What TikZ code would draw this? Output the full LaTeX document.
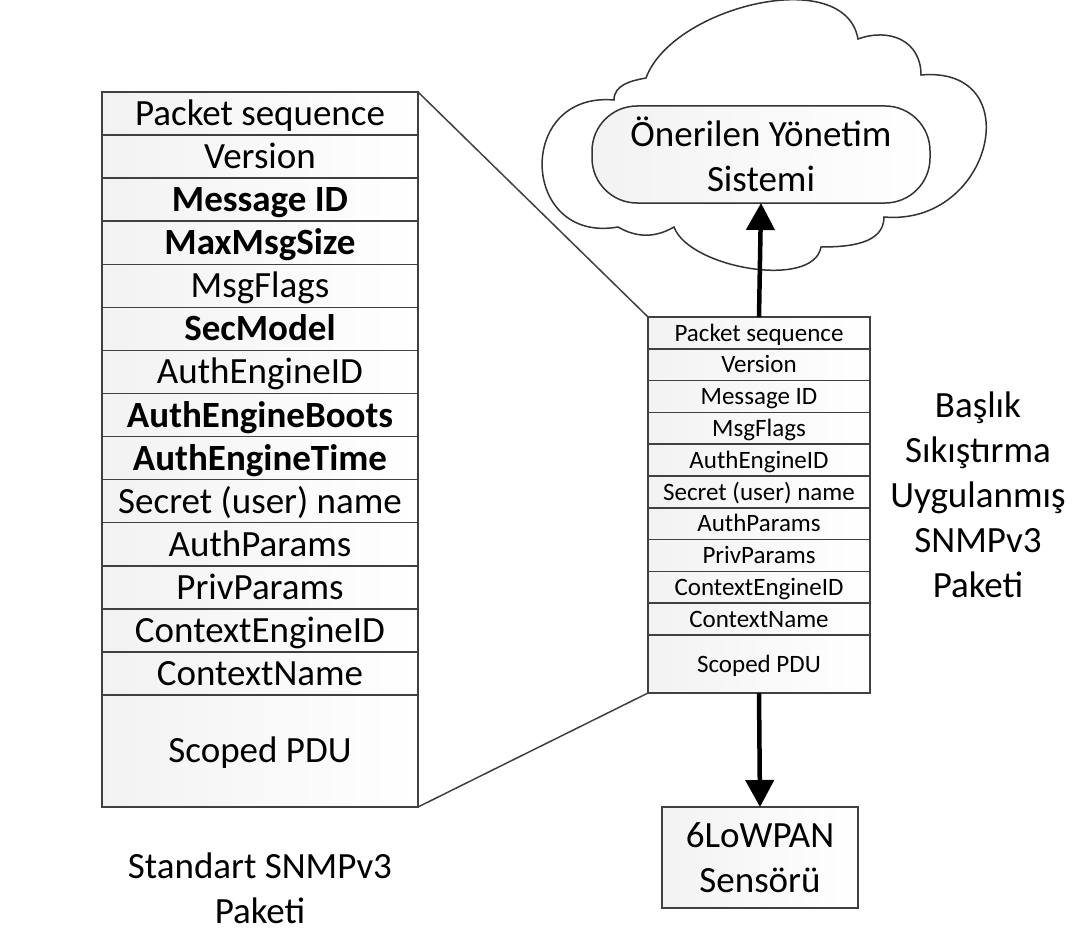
\documentclass[tikz,border=0pt]{standalone}
\usepackage{fontspec}
\setmainfont{Carlito}
\usetikzlibrary{positioning,arrows.meta}

\begin{document}
\begin{tikzpicture}[x=1pt,y=1pt]
        \tikzstyle{every node}=[font=\fontsize{37}{45}\selectfont, inner sep=0pt, outer sep=0pt]
        \tikzstyle{bigrow}=[draw=black!75, line width=1.5pt, left color=black!5, right color=white, minimum width=316pt, minimum height=43.07pt, text height=24pt, text depth=0pt]
        \tikzstyle{smallrow}=[draw=black!75, line width=1.5pt, left color=black!5, right color=white, minimum width=222pt, minimum height=31.8pt, font=\fontsize{25}{30}\selectfont, text height=16.5pt, text depth=0pt]
        \tikzstyle{thickarrow}=[line width=4.5pt, -{Triangle[length=27pt,width=28pt]}]
        \useasboundingbox (0,0) rectangle (1078,-931);

        % standard packet
        \node[bigrow, anchor=north] (lseq) at (260,-92) {Packet sequence};
        \node[bigrow, below=0pt of lseq] (lver) {Version};
        \node[bigrow, below=0pt of lver, font=\fontsize{37}{45}\selectfont\bfseries] (lmid) {Message ID};
        \node[bigrow, below=0pt of lmid, font=\fontsize{37}{45}\selectfont\bfseries] (lmax) {MaxMsgSize};
        \node[bigrow, below=0pt of lmax] (lflags) {MsgFlags};
        \node[bigrow, below=0pt of lflags, font=\fontsize{37}{45}\selectfont\bfseries] (lsec) {SecModel};
        \node[bigrow, below=0pt of lsec] (lengid) {AuthEngineID};
        \node[bigrow, below=0pt of lengid, font=\fontsize{37}{45}\selectfont\bfseries] (lboots) {AuthEngineBoots};
        \node[bigrow, below=0pt of lboots, font=\fontsize{37}{45}\selectfont\bfseries] (ltime) {AuthEngineTime};
        \node[bigrow, below=0pt of ltime] (luser) {Secret (user) name};
        \node[bigrow, below=0pt of luser] (lauth) {AuthParams};
        \node[bigrow, below=0pt of lauth] (lpriv) {PrivParams};
        \node[bigrow, below=0pt of lpriv] (lctxid) {ContextEngineID};
        \node[bigrow, below=0pt of lctxid] (lctxname) {ContextName};
        \node[bigrow, below=0pt of lctxname, minimum height=112pt] (lpdu) {Scoped PDU};
            \node[align=center] (llabel) at (260,-888) {Standart SNMPv3\\Paketi};

        % compressed packet
        \node[smallrow, anchor=north] (rseq) at (759,-317) {Packet sequence};
        \node[smallrow, below=0pt of rseq] (rver) {Version};
        \node[smallrow, below=0pt of rver] (rmid) {Message ID};
        \node[smallrow, below=0pt of rmid] (rflags) {MsgFlags};
        \node[smallrow, below=0pt of rflags] (rengid) {AuthEngineID};
        \node[smallrow, below=0pt of rengid] (ruser) {Secret (user) name};
        \node[smallrow, below=0pt of ruser] (rauth) {AuthParams};
        \node[smallrow, below=0pt of rauth] (rpriv) {PrivParams};
        \node[smallrow, below=0pt of rpriv] (rctxid) {ContextEngineID};
        \node[smallrow, below=0pt of rctxid] (rctxname) {ContextName};
        \node[smallrow, below=0pt of rctxname, minimum height=58pt] (rpdu) {Scoped PDU};
            \node[align=center] (rlabel) at (978,-495) {Başlık\\Sıkıştırma\\Uygulanmış\\SNMPv3\\Paketi};

        \draw [draw=black!75, line width=1.5pt] (lseq.north east) -- (rseq.north west);
        \draw [draw=black!75, line width=1.5pt] (lpdu.south east) -- (rpdu.south west);

        %cloud
        \draw [draw=black!80, line width=1.5pt, fill=white] (614,-100) to[out=90,in=190] (646,-78)
            to[out=70,in=100,looseness=0.9] (858,-39) to[out=20,in=90,looseness=1.2] (921,-75)
            to[out=5,in=-5,looseness=1.9] (884,-217) to[out=-90,in=0] (821,-247)
            to[out=-100,in=-70,looseness=0.75] (674,-227) to[out=-150,in=-30] (618,-227)
            to[out=190,in=175,looseness=2] cycle;
        \node[draw=black!80, line width=1.5pt, rounded corners=45pt, left color=black!5, right color=white, minimum width=338pt, minimum height=97pt, align=center] (mgmt) at (761,-154.5) {Önerilen Yönetim\\Sistemi};

        \node[draw=black!75, line width=1.5pt, left color=black!5, right color=white, minimum width=196pt, minimum height=101pt, align=center] (sensor) at (760,-857.5) {6LoWPAN\\Sensörü};

        \draw [thickarrow] (rseq.north) -- (mgmt.south);
        \draw [thickarrow] (rpdu.south) -- (sensor.north);
\end{tikzpicture}
\end{document}
